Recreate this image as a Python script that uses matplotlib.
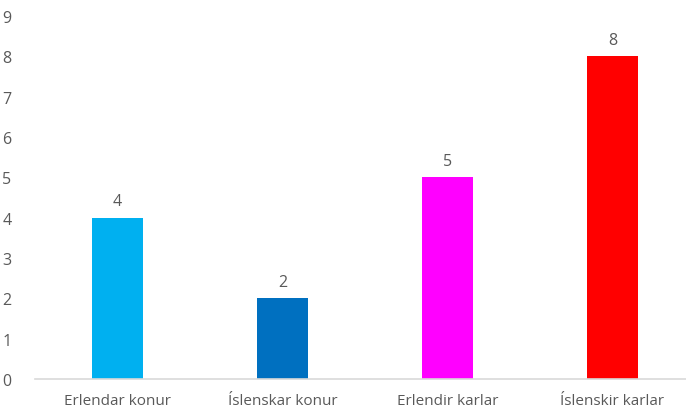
import matplotlib.pyplot as plt

categories = ["Erlendar konur", "Íslenskar konur", "Erlendir karlar", "Íslenskir karlar"]
values = [4, 2, 5, 8]
colors = ["#00B0F0", "#0070C0", "#FF00FF", "#FF0000"]
y_ticks = list(range(0, 10))

plt.rcParams["font.family"] = ["Open Sans", "DejaVu Sans"]
text_color = "#595959"

fig = plt.figure(figsize=(6.86, 4.10), dpi=100)
# axes spans past the right edge, like the clipped original
ax = fig.add_axes([35 / 686, 30 / 410, 660 / 686, 363 / 410])

x = range(len(categories))
bars = ax.bar(x, values, width=0.315, color=colors)

for bar, v in zip(bars, values):
    ax.annotate(str(v), (bar.get_x() + bar.get_width() / 2, v),
                xytext=(0, 6), textcoords="offset points",
                ha="center", va="bottom", fontsize=11.5, color=text_color)

ax.set_xlim(-0.5, 3.5)
ax.set_ylim(0, 9)
ax.set_yticks(y_ticks)
ax.set_xticks(list(x))
ax.set_xticklabels(categories)

for side in ["top", "right", "left"]:
    ax.spines[side].set_visible(False)
ax.spines["bottom"].set_color("#D9D9D9")
ax.spines["bottom"].set_linewidth(1.2)

ax.tick_params(axis="y", length=0, pad=17, labelsize=11.5, labelcolor=text_color)
ax.tick_params(axis="x", length=0, pad=10, labelsize=11, labelcolor=text_color)

fig.savefig("out.png", dpi=100)
